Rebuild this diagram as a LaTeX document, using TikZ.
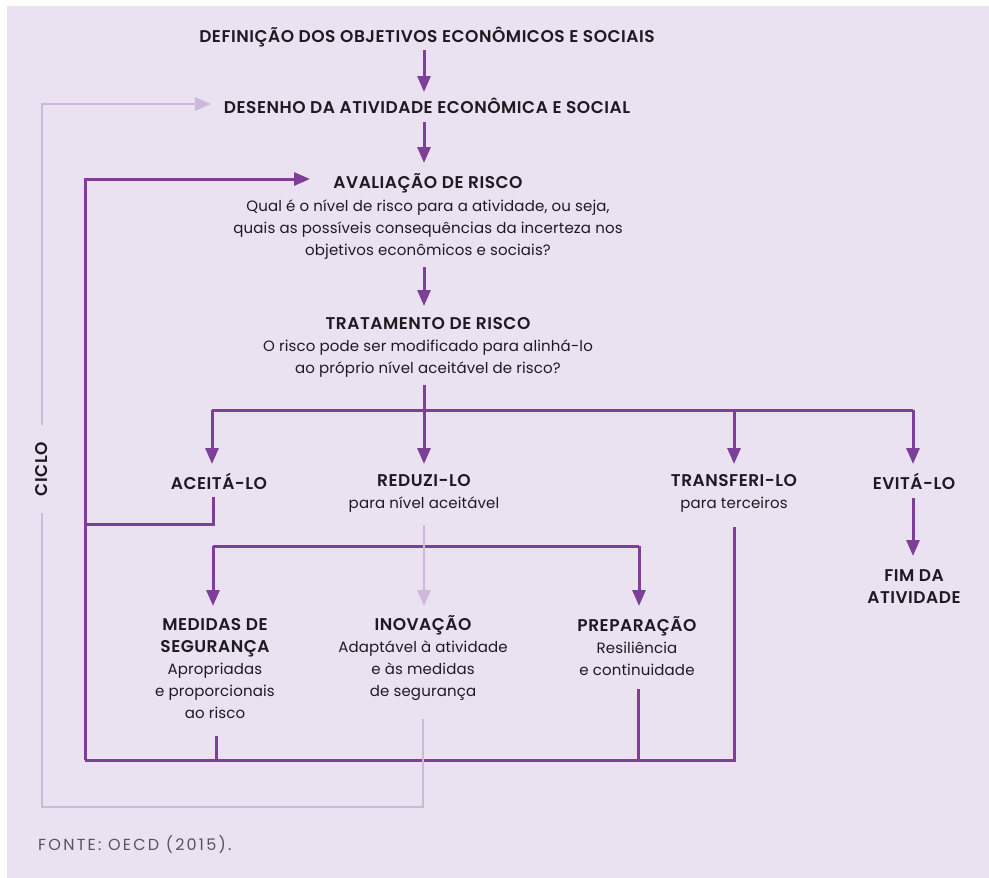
\documentclass[tikz,border=0pt]{standalone}
\usepackage{fontspec}
\setmainfont{Poppins}[BoldFont={* SemiBold}]
\usetikzlibrary{arrows.meta}
\definecolor{bg}{HTML}{EAE2F0}
\definecolor{dp}{HTML}{7D3F98}
\definecolor{lp}{HTML}{CBB8DA}
\definecolor{tx}{HTML}{1E1A22}
\definecolor{src}{HTML}{58545C}
\newcommand{\tlfont}{\fontsize{17}{22}\selectfont\bfseries\addfontfeature{LetterSpace=3}}
\newcommand{\bdfont}{\fontsize{15}{22}\selectfont\addfontfeature{LetterSpace=1}}
\newcommand{\tl}[1]{{\tlfont #1}}
\begin{document}
\begin{tikzpicture}[x=1pt,y=-1pt,
  base/.style={text=tx, align=center, inner sep=0pt, font=\bdfont},
  ttl/.style={base, font=\tlfont},
  blk/.style={base},
  dline/.style={draw=dp, line width=3pt},
  darr/.style={dline, -{Triangle[length=16pt,width=13pt]}},
  lline/.style={draw=lp, line width=2.6pt},
  larr/.style={lline, -{Triangle[length=16pt,width=13pt]}},
]
\useasboundingbox (0,0) rectangle (989,878);
\fill[white] (0,0) rectangle (989,878);
\fill[bg] (7,6) rectangle (989,878);

% nodes
\node[ttl] (def) at (427,37) {DEFINIÇÃO DOS OBJETIVOS ECONÔMICOS E SOCIAIS};
\node[ttl] (des) at (427,106) {DESENHO DA ATIVIDADE ECONÔMICA E SOCIAL};
\node[ttl] (avt) at (428,183) {AVALIAÇÃO DE RISCO};
\node[blk] (avd) at (428,230) {Qual é o nível de risco para a atividade, ou seja,\\quais as possíveis consequências da incerteza nos\\objetivos econômicos e sociais?};
\node[blk] (trat) at (428,347.5) {\tl{TRATAMENTO DE RISCO}\\O risco pode ser modificado para alinhá-lo\\ao próprio nível aceitável de risco?};
\node[ttl] (acc) at (219,481) {ACEITÁ-LO};
\node[blk] (red) at (424,493.5) {\tl{REDUZI-LO}\\para nível aceitável};
\node[blk] (trf) at (734,493.5) {\tl{TRANSFERI-LO}\\para terceiros};
\node[ttl] (evi) at (914,481) {EVITÁ-LO};
\node[ttl] (fim) at (914,587) {FIM DA\\ATIVIDADE};
\node[blk] (med) at (215,669) {\tl{MEDIDAS DE}\\\tl{SEGURANÇA}\\Apropriadas\\e proporcionais\\ao risco};
\node[blk] (inv) at (423,658) {\tl{INOVAÇÃO}\\Adaptável à atividade\\e às medidas\\de segurança};
\node[blk] (prp) at (637,646.5) {\tl{PREPARAÇÃO}\\Resiliência\\e continuidade};
\node[ttl, rotate=90] (cic) at (42,469) {CICLO};
\node[base, anchor=west, text=src, font=\fontsize{16}{22}\selectfont\addfontfeature{LetterSpace=14}] (fonte) at (38,845) {FONTE: OECD (2015).};

% junction coordinates
\coordinate (j0) at (424,410);
\coordinate (jl) at (212,410);
\coordinate (jt) at (734,410);
\coordinate (jr) at (913,410);
\coordinate (ml) at (213,546);
\coordinate (mr) at (639,546);
\coordinate (lb) at (85,760);
\coordinate (ca) at (85,524);
\coordinate (ct) at (85,179);
\coordinate (cy1) at (42,807);
\coordinate (cy2) at (423,807);
\coordinate (cyt) at (42,104);

% main spine
\draw[darr] (424,50) -- (424,92);
\draw[darr] (424,122) -- (424,163);
\draw[darr] (424,267) -- (424,306);
\draw[dline] (424,385) -- (j0);
\draw[dline] (jl) -- (jr);
\draw[darr] (jl) -- (212,464);
\draw[darr] (j0) -- (424,464);
\draw[darr] (jt) -- (734,464);
\draw[darr] (jr) -- (913,464);

% evita
\draw[darr] (913,498) -- (913,556);

% aceita back to loop
\draw[dline] (213,497) -- (213,524) -- (ca);

% reduzi sub-branches
\draw[dline] (ml) -- (mr);
\draw[darr] (ml) -- (213,606);
\draw[darr] (mr) -- (639,606);
\draw[larr] (424,525) -- (424,606);

% return loop (dark)
\draw[dline] (216,736) -- (216,760);
\draw[dline] (638,689) -- (638,760);
\draw[dline] (734,527) -- (734,760) -- (lb);
\draw[darr] (lb) -- (ct) -- (310,179);

% cycle loop (light)
\draw[lline] (423,719) -- (cy2) -- (cy1) -- (42,513);
\draw[larr] (42,425) -- (cyt) -- (211,104);
\end{tikzpicture}
\end{document}
